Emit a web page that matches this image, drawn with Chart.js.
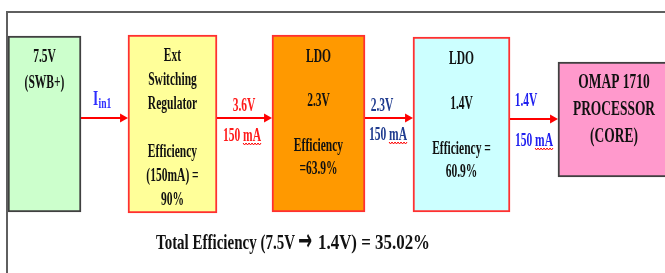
<!DOCTYPE html>
<html>
<head>
<meta charset="utf-8">
<script src="https://cdn.jsdelivr.net/npm/chart.js@4"></script>
<style>
  body { margin: 0; background: #fff; }
  canvas { display: block; }
</style>
</head>
<body>
<canvas id="power" width="665" height="273"></canvas>
<script>
// diagram units = pixels of the original slide, y grows downwards
const stages = ["7.5V (SWB+)", "Ext Switching Regulator", "LDO 2.3V", "LDO 1.4V", "OMAP 1710"];
const boxCenter = [44.5, 172.5, 318.5, 461.5, 618];
const boxSpan = [[36, 212], [35, 213], [35, 212], [37, 212], [62, 177]];
const boxText = [
  ["7.5V", "(SWB+)"],
  ["Ext", "Switching", "Regulator", "", "Efficiency", "(150mA) =", "90%"],
  ["LDO", "", "2.3V", "", "Efficiency", "=63.9%"],
  ["LDO", "", "1.4V", "", "Efficiency =", "60.9%"],
  ["OMAP 1710", "PROCESSOR", "(CORE)"]
];
const arrowStart = [81, 217, 365, 510];
const arrowEnd = [128, 272, 413, 558];
const arrowY = [118, 118, 118, 119];
const voltages = ["", "3.6V", "2.3V", "1.4V"];
const currents = ["", "150 mA", "150 mA", "150 mA"];
const totalParts = ["Total Efficiency (7.5V", "\u2192", "1.4V) = 35.02%"];

const fills = ["#ccffcc", "#ffff99", "#ff9900", "#ccffff", "#ff99cc"];
const edges = ["#404040", "#ff3030", "#ff3030", "#ff3030", "#404040"];
const boxWidth = [73, 89, 93, 97, 120];
const firstLine = [57, 56.5, 57, 59, 82.5];
const lineStep = [26, 24, 22.4, 22.7, 27];
const labelColor = ["#2f2fff", "#ff1a1a", "#1f3b8f", "#1f1fef"];
const voltX = [0, 244, 382, 526];
const currX = [0, 242, 388, 534];
const voltY = [0, 106, 106, 101];
const currY = [0, 136, 135, 141];
// left / right ends of the three pieces of the total line
const totalSpan = [[156, 295], [298, 312], [318, 430]];

const SERIF = '"Liberation Serif", "Times New Roman", serif';
const SQUEEZE = 0.64;

const datasets = [];
stages.forEach((name, i) => {
  datasets.push({
    type: "bar",
    label: name,
    data: [{ x: boxCenter[i], y: boxSpan[i] }],
    backgroundColor: fills[i],
    borderColor: edges[i],
    borderWidth: 2,
    borderSkipped: false,
    barThickness: boxWidth[i],
    grouped: false,
    order: 2
  });
});
arrowStart.forEach((x0, i) => {
  datasets.push({
    type: "line",
    label: "arrow " + i,
    data: [{ x: x0, y: arrowY[i] }, { x: arrowEnd[i] - 5.3, y: arrowY[i] }],
    borderColor: "#ff0000",
    borderWidth: 2,
    pointRadius: [0, 5.3],
    pointStyle: "triangle",
    pointRotation: 90,
    pointBackgroundColor: "#ff0000",
    pointBorderWidth: 0,
    order: 1
  });
});
// slide frame
datasets.push({
  type: "line",
  label: "frame",
  data: [{ x: 7, y: 290 }, { x: 7, y: 12 }, { x: 680, y: 12 }],
  borderColor: "#5f5f5f",
  borderWidth: 2,
  pointRadius: 0,
  order: 1
});

function put(chart, str, x, y, font, color, align, sx) {
  const ctx = chart.ctx;
  const px = chart.scales.x.getPixelForValue(x);
  const py = chart.scales.y.getPixelForValue(y);
  ctx.save();
  ctx.translate(px, py);
  ctx.scale(sx, 1);
  ctx.font = font;
  ctx.fillStyle = color;
  ctx.textAlign = align;
  ctx.textBaseline = "middle";
  ctx.fillText(str, 0, 0);
  const w = ctx.measureText(str).width * sx;
  ctx.restore();
  return w;
}

function squiggle(chart, x0, x1, y) {
  const ctx = chart.ctx;
  const a = chart.scales.x.getPixelForValue(x0);
  const b = chart.scales.x.getPixelForValue(x1);
  const py = chart.scales.y.getPixelForValue(y);
  ctx.save();
  ctx.strokeStyle = "#ff0000";
  ctx.lineWidth = 1;
  ctx.beginPath();
  for (let px = a, k = 0; px <= b; px += 1.5, k++) {
    const yy = py + (k % 2 ? 1 : -1);
    if (k === 0) ctx.moveTo(px, yy); else ctx.lineTo(px, yy);
  }
  ctx.stroke();
  ctx.restore();
}

const textPlugin = {
  id: "texts",
  afterDatasetsDraw(chart) {
    boxText.forEach((lines, i) => {
      const font = "bold " + (i === 4 ? 21 : 18) + "px " + SERIF;
      const cx = i === 4 ? 614 : boxCenter[i];
      lines.forEach((t, j) => {
        if (t) put(chart, t, cx, firstLine[i] + j * lineStep[i], font, "#111", "center", SQUEEZE);
      });
    });
    // input current label
    put(chart, "I", 93, 100, "bold 21px " + SERIF, labelColor[0], "left", SQUEEZE);
    put(chart, "in1", 98.5, 104, "bold 15px " + SERIF, labelColor[0], "left", SQUEEZE);
    for (let i = 1; i < voltages.length; i++) {
      const f = "bold 18px " + SERIF;
      put(chart, voltages[i], voltX[i], voltY[i], f, labelColor[i], "center", SQUEEZE);
      const w = put(chart, currents[i], currX[i], currY[i], f, labelColor[i], "center", SQUEEZE);
      const right = currX[i] + w / 2;
      squiggle(chart, right - 18, right, currY[i] + 8);
    }
    // total line, each piece squeezed to its width on the slide
    const ctx = chart.ctx;
    const fonts = ["bold 22px " + SERIF, "bold 30px 'DejaVu Sans'", "bold 22px " + SERIF];
    totalParts.forEach((t, k) => {
      ctx.font = fonts[k];
      const sx = (totalSpan[k][1] - totalSpan[k][0]) / ctx.measureText(t).width;
      put(chart, t, totalSpan[k][0], k === 1 ? 242.5 : 243, fonts[k], "#111", "left", sx);
    });
  }
};

new Chart(document.getElementById("power"), {
  type: "bar",
  data: { datasets },
  options: {
    responsive: false,
    animation: false,
    layout: { padding: 0, autoPadding: false },
    plugins: { legend: { display: false }, tooltip: { enabled: false } },
    scales: {
      x: { type: "linear", min: 0, max: 665, offset: false, display: false },
      y: { type: "linear", min: 0, max: 273, reverse: true, display: false }
    }
  },
  plugins: [textPlugin]
});
</script>
</body>
</html>
